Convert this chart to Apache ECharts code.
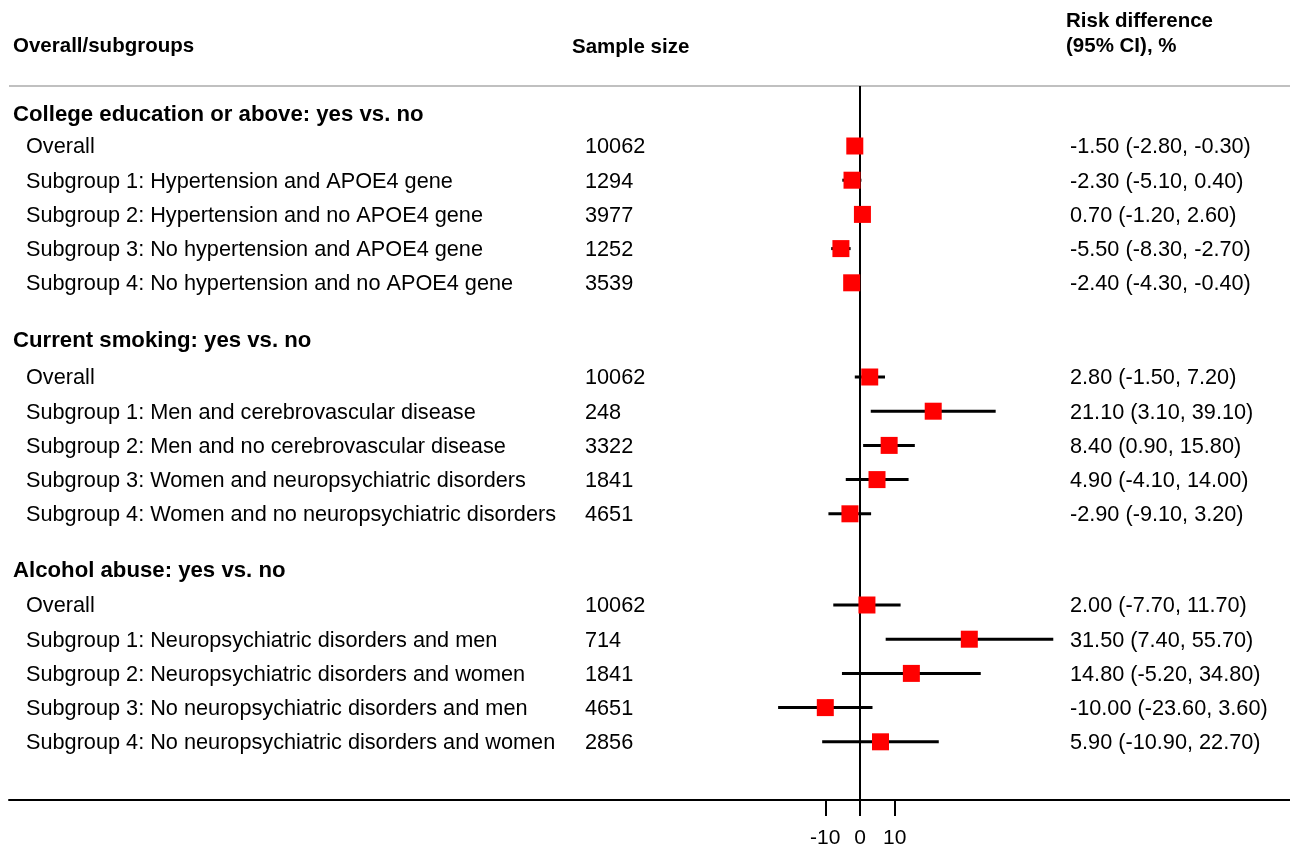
<!DOCTYPE html>
<html>
<head>
<meta charset="utf-8">
<script src="https://cdn.jsdelivr.net/npm/echarts@6/dist/echarts.min.js"></script>
<style>
html,body{margin:0;padding:0;background:#fff;}
#chart{width:1290px;height:849px;}
</style>
</head>
<body>
<div id="chart"></div>
<script>
// ---- data ----
const groupTitles = [
  "College education or above: yes vs. no",
  "Current smoking: yes vs. no",
  "Alcohol abuse: yes vs. no"
];
const rowLabels = [
  ["Overall","Subgroup 1: Hypertension and APOE4 gene","Subgroup 2: Hypertension and no APOE4 gene","Subgroup 3: No hypertension and APOE4 gene","Subgroup 4: No hypertension and no APOE4 gene"],
  ["Overall","Subgroup 1: Men and cerebrovascular disease","Subgroup 2: Men and no cerebrovascular disease","Subgroup 3: Women and neuropsychiatric disorders","Subgroup 4: Women and no neuropsychiatric disorders"],
  ["Overall","Subgroup 1: Neuropsychiatric disorders and men","Subgroup 2: Neuropsychiatric disorders and women","Subgroup 3: No neuropsychiatric disorders and men","Subgroup 4: No neuropsychiatric disorders and women"]
];
const sampleSizes = [
  [10062,1294,3977,1252,3539],
  [10062,248,3322,1841,4651],
  [10062,714,1841,4651,2856]
];
const estimates = [
  [-1.50,-2.30,0.70,-5.50,-2.40],
  [2.80,21.10,8.40,4.90,-2.90],
  [2.00,31.50,14.80,-10.00,5.90]
];
const lowers = [
  [-2.80,-5.10,-1.20,-8.30,-4.30],
  [-1.50,3.10,0.90,-4.10,-9.10],
  [-7.70,7.40,-5.20,-23.60,-10.90]
];
const uppers = [
  [-0.30,0.40,2.60,-2.70,-0.40],
  [7.20,39.10,15.80,14.00,3.20],
  [11.70,55.70,34.80,3.60,22.70]
];
const xTicks = [-10, 0, 10];
const headers = {label:"Overall/subgroups", n:"Sample size", rd1:"Risk difference", rd2:"(95% CI), %"};

// ---- layout (pixel-space helpers) ----
const W = 1290, AXIS_Y = 800, GRID_LEFT = 9;
const ZERO_PX = 860, PX_PER_UNIT = 3.47;
const xMin = -(ZERO_PX - GRID_LEFT) / PX_PER_UNIT;
const xMax = (W - ZERO_PX) / PX_PER_UNIT;
const groupRowStart = [146, 377, 605];
const groupHeadY = [113, 339, 569];
const ROW_STEP = 34.2;
const rowY = (g, i) => groupRowStart[g] + i * ROW_STEP;
const TEXT_DY = 1.5;
const COL_LABEL = 26, COL_GROUP = 13, COL_N = 585, COL_CI = 1070;
const FONT = "'Liberation Sans', Arial, sans-serif";
const ROW_FS = 21.7, GROUP_FS = 22.2, HEAD_FS = 20.5;

const texts = []; // [x, y, text, bold, size]
texts.push([COL_GROUP, 46, headers.label, 1, HEAD_FS]);
texts.push([572, 47, headers.n, 1, HEAD_FS]);
texts.push([1066, 21, headers.rd1, 1, HEAD_FS]);
texts.push([1066, 46, headers.rd2, 1, HEAD_FS]);
const ciLines = [], points = [];
groupTitles.forEach((t, g) => {
  texts.push([COL_GROUP, groupHeadY[g] + TEXT_DY, t, 1, GROUP_FS]);
  rowLabels[g].forEach((lab, i) => {
    const y = rowY(g, i);
    texts.push([COL_LABEL, y + TEXT_DY, lab, 0, ROW_FS]);
    texts.push([COL_N, y + TEXT_DY, String(sampleSizes[g][i]), 0, ROW_FS]);
    const ci = estimates[g][i].toFixed(2) + " (" + lowers[g][i].toFixed(2) + ", " + uppers[g][i].toFixed(2) + ")";
    texts.push([COL_CI, y + TEXT_DY, ci, 0, ROW_FS]);
    ciLines.push([lowers[g][i], uppers[g][i], y]);
    points.push([estimates[g][i], y]);
  });
});

const chart = echarts.init(document.getElementById('chart'));
chart.setOption({
  animation: false,
  backgroundColor: '#fff',
  grid: {left: GRID_LEFT, right: 0, top: 0, height: AXIS_Y, containLabel: false},
  xAxis: [
    {type: 'value', min: xMin, max: xMax, position: 'bottom',
     splitLine: {show: false},
     axisLine: {show: true, onZero: false, lineStyle: {color: '#000', width: 2}},
     axisTick: {show: true, customValues: xTicks, length: 16, lineStyle: {color: '#000', width: 2}},
     axisLabel: {show: true, customValues: xTicks, color: '#000', fontSize: 21, fontFamily: FONT, margin: 28}},
    {type: 'value', min: GRID_LEFT, max: W, position: 'top', show: false}
  ],
  yAxis: {type: 'value', min: 0, max: AXIS_Y, inverse: true, show: false},
  series: [
    {
      type: 'custom', xAxisIndex: 1, z: 1,
      data: [[GRID_LEFT, 86, W, 86]],
      renderItem: (p, api) => {
        const a = api.coord([api.value(0), api.value(1)]);
        const b = api.coord([api.value(2), api.value(3)]);
        return {type: 'line', shape: {x1: a[0], y1: a[1], x2: b[0], y2: b[1]}, style: {stroke: '#c0c0c0', lineWidth: 2}};
      }
    },
    {
      type: 'custom', xAxisIndex: 0, z: 2,
      data: ciLines,
      renderItem: (p, api) => {
        const a = api.coord([api.value(0), api.value(2)]);
        const b = api.coord([api.value(1), api.value(2)]);
        return {type: 'line', shape: {x1: a[0], y1: a[1], x2: b[0], y2: b[1]}, style: {stroke: '#000', lineWidth: 3}};
      }
    },
    {
      type: 'custom', xAxisIndex: 0, z: 3,
      data: [[0, 86, AXIS_Y]],
      renderItem: (p, api) => {
        const a = api.coord([api.value(0), api.value(1)]);
        const b = api.coord([api.value(0), api.value(2)]);
        return {type: 'line', shape: {x1: a[0], y1: a[1], x2: b[0], y2: b[1]}, style: {stroke: '#000', lineWidth: 2}};
      }
    },
    {
      type: 'scatter', xAxisIndex: 0, z: 4,
      symbol: 'rect', symbolSize: 17,
      itemStyle: {color: '#ff0000', opacity: 1},
      data: points
    },
    {
      type: 'custom', xAxisIndex: 1, z: 5,
      data: texts,
      renderItem: (p, api) => {
        const d = texts[p.dataIndex];
        const c = api.coord([d[0], d[1]]);
        return {type: 'text', x: c[0], y: c[1],
          style: {text: d[2], fill: '#000', font: (d[3] ? 'bold ' : '') + d[4] + 'px ' + FONT, align: 'left', verticalAlign: 'middle'}};
      }
    }
  ]
});
</script>
</body>
</html>
